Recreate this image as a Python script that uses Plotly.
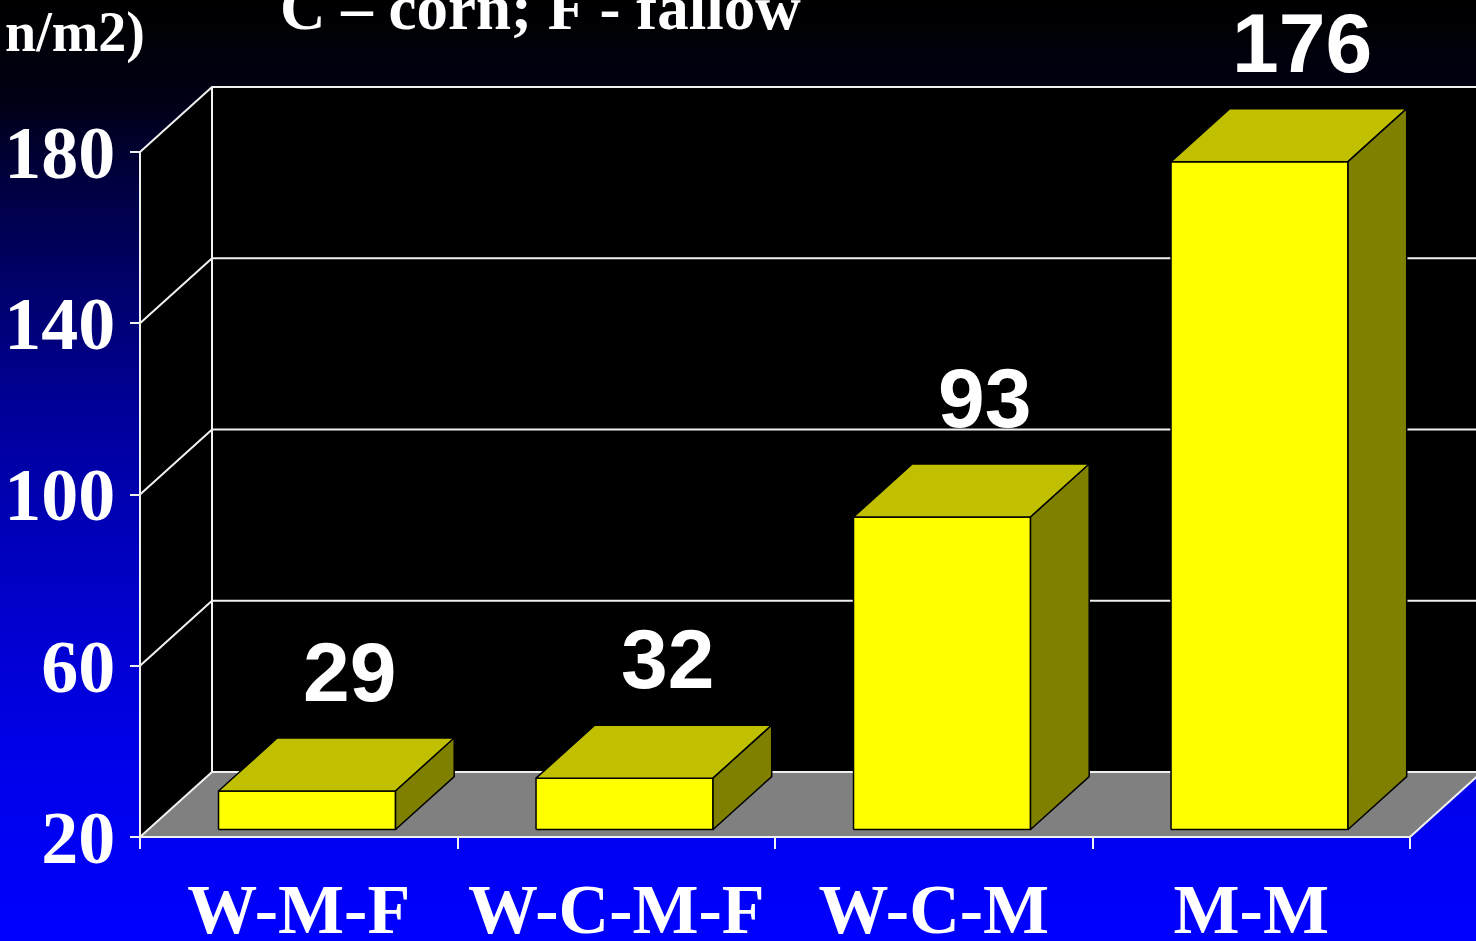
import numpy as np
import plotly.graph_objects as go

# ---------------- data ----------------
categories = ["W-M-F", "W-C-M-F", "W-C-M", "M-M"]
values = [29, 32, 93, 176]
y_ticks = [20, 60, 100, 140, 180]
title_text = "C – corn; F - fallow"
ytitle_text = "n/m2)"

# ---------------- geometry / style ----------------
W, H = 1476, 941
PX_L, PX_R = 140, 1410        # front plane, pixels
PY_B, PY_T = 837, 152
Y_MIN, Y_MAX = y_ticks[0], y_ticks[-1]
n = len(categories)
ux = (PX_R - PX_L) / n
uy = (PY_B - PY_T) / (Y_MAX - Y_MIN)
x_lo = -0.5 - PX_L / ux
x_hi = -0.5 + (W - PX_L) / ux
y_lo = Y_MIN - (H - PY_B) / uy
y_hi = Y_MAX + PY_T / uy
DX = 72 / ux                  # depth offset in data units
DY = 65 / uy
XL = -0.5
XR = n - 0.5
FAR = x_hi + 1

BAR_W = 177 / ux
F0, F1 = 0.115, 0.93          # bar depth fractions
LBL_DX, LBL_DY = 0.16, 29.5

SERIF = "Liberation Serif, Times New Roman, serif"
NARROW = "Liberation Sans Narrow, Arial Narrow, Liberation Sans, Arial, sans-serif"
GRID = dict(color="#f0f0f0", width=2)

fig = go.Figure()

def poly(xs, ys, fill, line_color=None, lw=0):
    fig.add_trace(go.Scatter(
        x=xs + [xs[0]], y=ys + [ys[0]], mode="lines", fill="toself",
        fillcolor=fill,
        line=dict(color=line_color or fill, width=lw),
        hoverinfo="skip", showlegend=False))

# walls and floor
poly([XL, XL, XL + DX, XL + DX], [Y_MIN, Y_MAX, Y_MAX + DY, Y_MIN + DY], "#000000")
poly([XL + DX, FAR, FAR, XL + DX], [Y_MIN + DY, Y_MIN + DY, Y_MAX + DY, Y_MAX + DY], "#000000")
poly([XL, XR, XR + DX, XL + DX], [Y_MIN, Y_MIN, Y_MIN + DY, Y_MIN + DY], "#808080")

# gridlines (side wall diagonal + back wall horizontal)
gx, gy = [], []
for t in y_ticks:
    gx += [XL, XL + DX, FAR, None]
    gy += [t, t + DY, t + DY, None]
# back wall left edge, front axis line, floor front edges
gx += [XL + DX, XL + DX, None, XL, XL, None, XL, XR, XR + DX, None]
gy += [Y_MIN + DY, Y_MAX + DY, None, Y_MIN, Y_MAX, None, Y_MIN, Y_MIN, Y_MIN + DY, None]
fig.add_trace(go.Scatter(x=gx, y=gy, mode="lines", line=GRID,
                         hoverinfo="skip", showlegend=False))

# bars
sx, sy = (F1 - F0) * DX, (F1 - F0) * DY
for i, v in enumerate(values):
    xa = i - BAR_W / 2 + F0 * DX
    xb = i + BAR_W / 2 + F0 * DX
    ya = Y_MIN + F0 * DY
    yb = v + F0 * DY
    poly([xa, xb, xb, xa], [ya, ya, yb, yb], "#FFFF00", "#000000", 1.5)
    poly([xa, xb, xb + sx, xa + sx], [yb, yb, yb + sy, yb + sy], "#C0C000", "#000000", 1.5)
    poly([xb, xb + sx, xb + sx, xb], [ya, ya + sy, yb + sy, yb], "#808000", "#000000", 1.5)
    fig.add_annotation(x=i + LBL_DX, y=v + LBL_DY, xref="x", yref="y",
                       text=str(v), showarrow=False, xanchor="center", yanchor="middle",
                       font=dict(family=NARROW, size=84, color="white", weight="bold"))

# background gradient (style only)
stops_y = [0, 100, 180, 300, 430, 590, 750, 941]
stops_b = [0, 21, 64, 112, 160, 200, 232, 255]
step = 8
shapes = []
for y0 in range(0, H, step):
    b = int(np.interp(y0 + step / 2, stops_y, stops_b))
    shapes.append(dict(type="rect", xref="paper", yref="paper",
                       x0=0, x1=1, y0=1 - (y0 + step + 1) / H, y1=1 - y0 / H,
                       fillcolor=f"rgb(0,0,{b})", line=dict(width=0), layer="below"))

fig.add_annotation(x=278 / W, y=1 - 8 / H, xref="paper", yref="paper",
                   text=title_text, showarrow=False, xanchor="left", yanchor="middle",
                   font=dict(family=SERIF, size=63, color="white", weight="bold"))
fig.add_annotation(x=147 / W, y=1 - 33 / H, xref="paper", yref="paper",
                   text=ytitle_text, showarrow=False, xanchor="right", yanchor="middle",
                   font=dict(family=SERIF, size=56, color="white", weight="bold"))

fig.update_layout(
    width=W, height=H, margin=dict(l=0, r=0, t=0, b=0, pad=0, autoexpand=False),
    paper_bgcolor="#000000", plot_bgcolor="rgba(0,0,0,0)",
    shapes=shapes, showlegend=False, hovermode=False,
    xaxis=dict(range=[x_lo, x_hi], domain=[0, 1], anchor="free",
               position=(H - PY_B) / H, automargin=False,
               showgrid=False, zeroline=False, showline=False,
               tickmode="array", tickvals=list(range(n)), ticktext=categories,
               ticks="outside", ticklen=11, tickcolor="rgba(0,0,0,0)",
               tickfont=dict(family=SERIF, size=70, color="white", weight="bold"),
               minor=dict(tickmode="array", tickvals=[i - 0.5 for i in range(n + 1)],
                          ticks="outside", ticklen=11, tickwidth=2,
                          tickcolor="#f0f0f0", showgrid=False),
               fixedrange=True),
    yaxis=dict(range=[y_lo, y_hi], domain=[0, 1], anchor="free",
               position=PX_L / W, automargin=False,
               showgrid=False, zeroline=False, showline=False,
               tickmode="array", tickvals=y_ticks,
               ticks="outside", ticklen=10, tickwidth=2, tickcolor="#f0f0f0",
               tickfont=dict(family=SERIF, size=74, color="white", weight="bold"),
               fixedrange=True),
)

fig.write_html("out.html")
